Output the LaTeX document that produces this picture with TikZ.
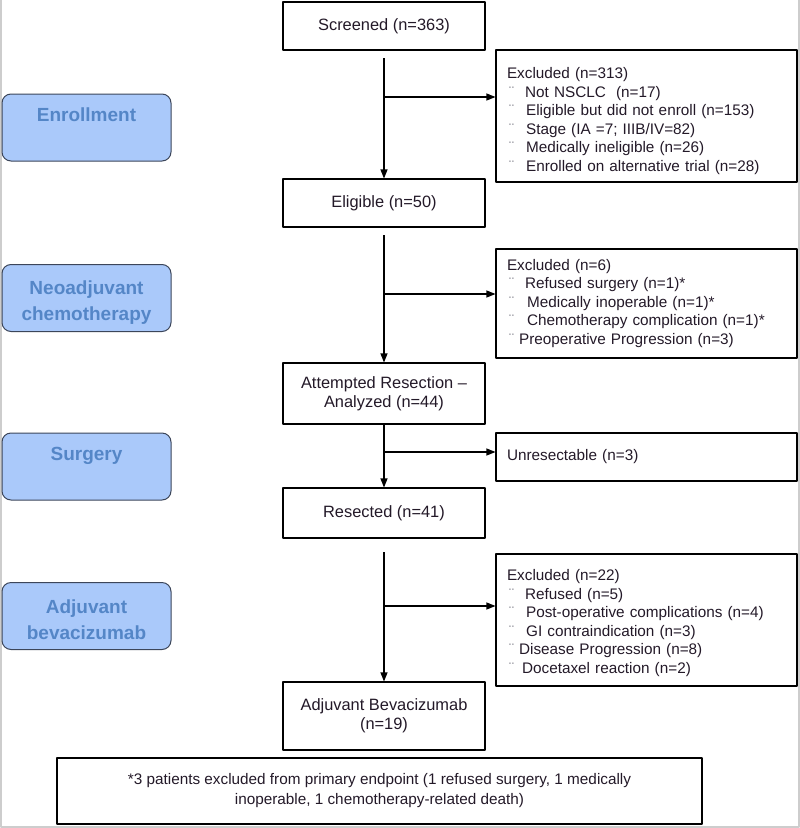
\documentclass[tikz,border=0pt]{standalone}
\usepackage{fontspec}
\setmainfont{Liberation Sans}
\usetikzlibrary{arrows.meta}
\definecolor{txtcol}{RGB}{35,25,40}
\definecolor{phasefill}{RGB}{170,201,250}
\definecolor{phasetext}{RGB}{84,134,199}
\definecolor{phaseedge}{RGB}{60,70,90}
\definecolor{framegray}{RGB}{205,205,205}
\definecolor{bulletgray}{RGB}{140,140,150}
% bullet of an exclusion list, with the gap after it
\newcommand{\exitem}[1][11pt]{\hspace*{2pt}{\color{bulletgray}¨}\hspace*{#1}}
\begin{document}
\begin{tikzpicture}[x=1pt, y=-1pt, line join=round, >={Triangle[length=9pt,width=7pt]},
    flowbox/.style={draw=black, line width=1.1pt, fill=white, minimum width=202pt, inner sep=0pt,
        align=center, text=txtcol, font=\fontsize{16.4}{19}\selectfont},
    exclbox/.style={draw=black, line width=1.1pt, minimum width=301pt, text width=279pt,
        inner xsep=11pt, inner ysep=0pt, align=left, text=txtcol, font=\fontsize{15.3}{18.5}\selectfont},
    notebox/.style={draw=black, line width=1.1pt, minimum width=645pt, minimum height=66pt,
        align=center, text=txtcol, font=\fontsize{15.3}{20}\selectfont},
    phase/.style={draw=phaseedge, line width=1pt, fill=phasefill, rounded corners=9pt,
        minimum width=169pt, minimum height=67pt, align=center, text=phasetext,
        font=\fontsize{19}{26}\selectfont\bfseries},
    conn/.style={line width=1.1pt}]
    \useasboundingbox (0,0) rectangle (800,828);
    \draw[framegray, line width=2pt] (1,0) -- (1,827) -- (799,827) -- (799,0);

    % phases
    \node[phase] (enroll) at (86.5,127.5) {\rule{0pt}{22pt}Enrollment\\\strut};
    \node[phase] (neoadj) at (86.5,298) {\rule{0pt}{22pt}Neoadjuvant\\chemotherapy};
    \node[phase] (surgery) at (86.5,466.5) {\rule{0pt}{22pt}Surgery\\\strut};
    \node[phase] (adjphase) at (86.5,616) {\rule{0pt}{22pt}Adjuvant\\bevacizumab};

    % main flow
    \node[flowbox, minimum height=48pt] (screened) at (384,26) {Screened (n=363)};
    \node[flowbox, minimum height=48pt] (eligible) at (384,203) {Eligible (n=50)};
    \node[flowbox, minimum height=61pt] (attempted) at (384,393.5) {Attempted Resection --\\Analyzed (n=44)};
    \node[flowbox, minimum height=50pt] (resected) at (384,513) {Resected (n=41)};
    \node[flowbox, minimum height=68pt] (adjuvant) at (384,716) {Adjuvant Bevacizumab\\(n=19)};

    % exclusions
    \node[exclbox, minimum height=132pt] (excl1) at (646.5,116) {\rule{0pt}{21pt}Excluded (n=313)\\
        \exitem Not NSCLC\ \ (n=17)\\
        \exitem[12pt]Eligible but did not enroll (n=153)\\
        \exitem[12pt]Stage (IA =7; IIIB/IV=82)\\
        \exitem[12pt]Medically ineligible (n=26)\\
        \exitem[12pt]Enrolled on alternative trial (n=28)};
    \node[exclbox, minimum height=109pt] (excl2) at (646.5,303.5) {Excluded (n=6)\\
        \exitem Refused surgery (n=1)*\\
        \exitem[13pt]Medically inoperable (n=1)*\\
        \exitem[13pt]Chemotherapy complication (n=1)*\\
        \exitem[5pt]Preoperative Progression (n=3)};
    \node[exclbox, minimum height=48pt] (unres) at (646.5,457) {Unresectable (n=3)};
    \node[exclbox, minimum height=132pt] (excl3) at (646.5,620) {\rule{0pt}{17pt}Excluded (n=22)\\
        \exitem Refused (n=5)\\
        \exitem[12pt]Post-operative complications (n=4)\\
        \exitem[12pt]GI contraindication (n=3)\\
        \exitem[5pt]Disease Progression (n=8)\\
        \exitem[8pt]Docetaxel reaction (n=2)};

    \node[notebox] (note) at (379.5,791) {*3 patients excluded from primary endpoint (1 refused surgery, 1 medically\\
        inoperable, 1 chemotherapy-related death)};

    % connectors
    \coordinate (s1) at (384,58);
    \coordinate (b1) at (384,97);
    \coordinate (s2) at (384,235);
    \coordinate (b2) at (384,294);
    \coordinate (b3) at (384,452);
    \coordinate (s4) at (384,552);
    \coordinate (b4) at (384,606);
    \draw[conn,->] (s1) -- (eligible.north);
    \draw[conn,->] (b1) -- (b1 -| excl1.west);
    \draw[conn,->] (s2) -- (attempted.north);
    \draw[conn,->] (b2) -- (b2 -| excl2.west);
    \draw[conn,->] (attempted.south) -- (resected.north);
    \draw[conn,->] (b3) -- (b3 -| unres.west);
    \draw[conn,->] (s4) -- (adjuvant.north);
    \draw[conn,->] (b4) -- (b4 -| excl3.west);
\end{tikzpicture}
\end{document}
